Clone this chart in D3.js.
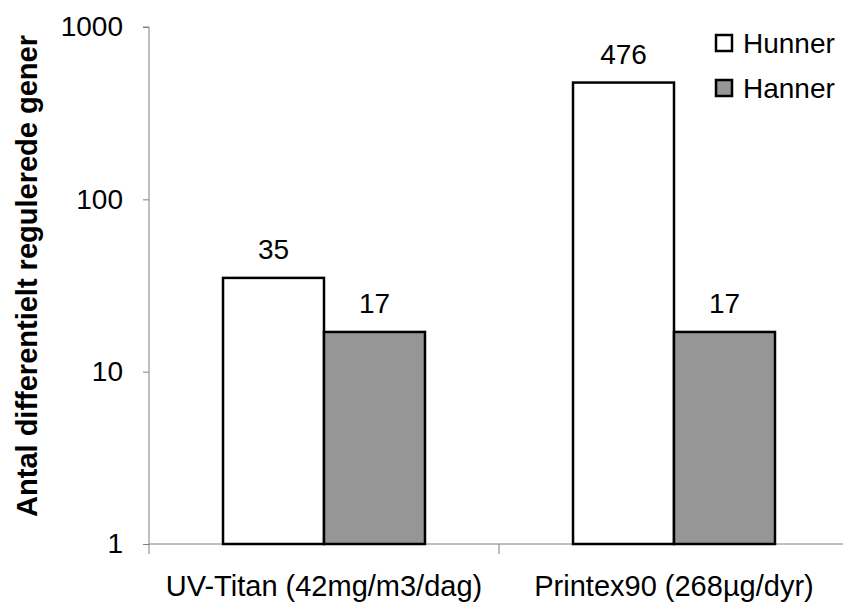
<!DOCTYPE html>
<html>
<head>
<meta charset="utf-8">
<script src="https://cdn.jsdelivr.net/npm/d3@7"></script>
<style>
  body { margin: 0; background: #fff; }
  text { font-family: "Liberation Sans", Arial, sans-serif; }
</style>
</head>
<body>
<div class="chart"></div>
<script>

var width = 843,
  height = 604;

// data
var categories = ['UV-Titan (42mg/m3/dag)', 'Printex90 (268\u00b5g/dyr)'];
var series = ['Hunner', 'Hanner'];
var hunner = [35, 476];
var hanner = [17, 17];
var yTicks = [1, 10, 100, 1000];
var colors = ['#ffffff', '#969696'];

var rows = categories.map(function(c, i) {
  return { cat: c, values: [hunner[i], hanner[i]] };
});

var svg = d3.select('.chart')
  .append('svg')
  .attr('width', width)
  .attr('height', height);

// scales
var x0 = d3.scaleBand()
  .domain(categories)
  .range([149, 849])
  .padding(0);

var x1 = d3.scaleBand()
  .domain(series)
  .range([0, x0.bandwidth()])
  .paddingInner(0)
  .paddingOuter(0.733);

var y = d3.scaleLog()
  .domain([1, 1000])
  .range([544, 27]);

// y axis
var yAxis = d3.axisLeft(y)
  .tickValues(yTicks)
  .tickFormat(d3.format('d'))
  .tickSize(6)
  .tickPadding(20);

var yAxisG = svg.append('g')
  .attr('transform', 'translate(149,0)')
  .call(yAxis);

yAxisG.select('.domain').attr('stroke', '#808080').attr('d', 'M-6,27H0V544');
yAxisG.selectAll('.tick line').attr('stroke', '#808080');
yAxisG.selectAll('.tick text')
  .attr('font-size', 28)
  .attr('fill', '#000');

// x axis
var xAxisG = svg.append('g')
  .attr('transform', 'translate(0,544)');

xAxisG.append('line')
  .attr('x1', x0.range()[0])
  .attr('x2', x0.range()[1])
  .attr('stroke', '#808080');

var bounds = categories.map(function(c) { return x0(c); }).concat([x0.range()[1]]);
xAxisG.selectAll('.xtick')
  .data(bounds)
  .enter()
  .append('line')
  .attr('class', 'xtick')
  .attr('x1', function(d) { return d; })
  .attr('x2', function(d) { return d; })
  .attr('y1', 0)
  .attr('y2', 10)
  .attr('stroke', '#808080');

xAxisG.selectAll('.xlabel')
  .data(categories)
  .enter()
  .append('text')
  .attr('class', 'xlabel')
  .attr('x', function(d) { return x0(d) + x0.bandwidth() / 2; })
  .attr('y', 52)
  .attr('text-anchor', 'middle')
  .attr('font-size', 29)
  .text(function(d) { return d; });

// bars
var groups = svg.selectAll('.group')
  .data(rows)
  .enter()
  .append('g')
  .attr('class', 'group')
  .attr('transform', function(d) { return 'translate(' + x0(d.cat) + ',0)'; });

groups.selectAll('rect')
  .data(function(d) { return d.values.map(function(v, i) { return { s: series[i], v: v, i: i }; }); })
  .enter()
  .append('rect')
  .attr('x', function(d) { return x1(d.s); })
  .attr('y', function(d) { return y(d.v); })
  .attr('width', x1.bandwidth())
  .attr('height', function(d) { return y(1) - y(d.v); })
  .attr('fill', function(d) { return colors[d.i]; })
  .attr('stroke', '#000')
  .attr('stroke-width', 2.5);

groups.selectAll('.val')
  .data(function(d) { return d.values.map(function(v, i) { return { s: series[i], v: v }; }); })
  .enter()
  .append('text')
  .attr('class', 'val')
  .attr('x', function(d) { return x1(d.s) + x1.bandwidth() / 2; })
  .attr('y', function(d) { return y(d.v) - 19; })
  .attr('text-anchor', 'middle')
  .attr('font-size', 28)
  .text(function(d) { return d.v; });

// y title
svg.append('text')
  .attr('transform', 'translate(37,276) rotate(-90)')
  .attr('text-anchor', 'middle')
  .attr('font-size', 29)
  .attr('font-weight', 'bold')
  .text('Antal differentielt regulerede gener');

// legend
var legend = svg.selectAll('.legend')
  .data(series)
  .enter()
  .append('g')
  .attr('class', 'legend')
  .attr('transform', function(d, i) { return 'translate(716,' + (35 + i * 45) + ')'; });

legend.append('rect')
  .attr('width', 16)
  .attr('height', 16)
  .attr('fill', function(d, i) { return colors[i]; })
  .attr('stroke', '#000')
  .attr('stroke-width', 2.5);

legend.append('text')
  .attr('x', 27)
  .attr('y', 18)
  .attr('font-size', 28)
  .text(function(d) { return d; });

</script>
</body>
</html>
